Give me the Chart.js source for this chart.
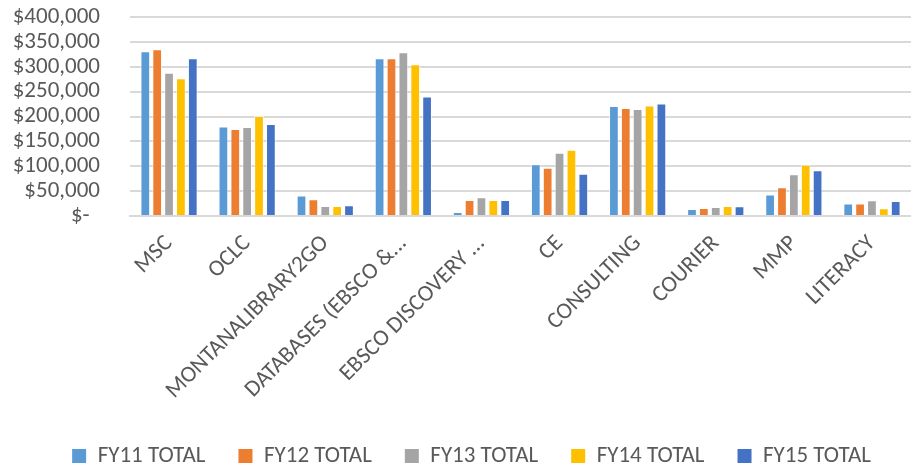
<!DOCTYPE html>
<html><head><meta charset="utf-8">
<script src="https://cdn.jsdelivr.net/npm/chart.js@4"></script>
<style>html,body{margin:0;padding:0;background:#fff}#wrap{width:911px;height:472px}</style>
</head><body><div id="wrap"><canvas id="c" width="911" height="472"></canvas></div>
<script>
const categories = ["MSC","OCLC","MONTANALIBRARY2GO","DATABASES (EBSCO &...","EBSCO DISCOVERY ...","CE","CONSULTING","COURIER","MMP","LITERACY"];
const fy11 = [331000,180000,41000,317000,8000,104000,221000,14000,43000,25000];
const fy12 = [335000,175000,33500,317000,32000,97000,217000,16000,58000,25000];
const fy13 = [288000,179000,20000,329000,37500,127000,215000,18000,84000,31500];
const fy14 = [277000,201000,20000,305000,32000,133000,222000,20000,103000,15500];
const fy15 = [317000,185000,21500,240000,32000,85000,226000,19500,92000,30000];
const seriesNames = ["FY11 TOTAL","FY12 TOTAL","FY13 TOTAL","FY14 TOTAL","FY15 TOTAL"];
const colors = ["#5B9BD5","#ED7D31","#A5A5A5","#FFC000","#4472C4"];
const yTicks = [0,50000,100000,150000,200000,250000,300000,350000,400000];

const font = "Carlito, 'Liberation Sans Narrow', 'Open Sans', sans-serif";
const data = {
  labels: categories,
  datasets: [fy11,fy12,fy13,fy14,fy15].map((d,i)=>({
    label: seriesNames[i], data: d, backgroundColor: colors[i],
    borderColor: "rgba(255,255,255,0.6)", borderWidth: 1,
    categoryPercentage: 0.76, barPercentage: 0.82
  }))
};
const legendShift = {
  id: 'legendShift',
  afterLayout(chart) { if (chart.legend) { chart.legend.left += 10; chart.legend.right += 10; } }
};
new Chart(document.getElementById('c'), {
  type: 'bar',
  data,
  plugins: [legendShift],
  options: {
    responsive: false, animation: false,
    layout: { padding: { left: 12, right: 0, top: 0, bottom: -5.5 } },
    plugins: {
      legend: { position: 'bottom',
        labels: { font: { family: font, size: 23 }, color: '#595959', boxWidth: 14, boxHeight: 14, padding: 33,
          generateLabels: ch => ch.data.datasets.map((ds,i)=>({
            text: ds.label, fillStyle: ds.backgroundColor, strokeStyle: ds.backgroundColor,
            lineWidth: 0, hidden: false, datasetIndex: i, fontColor: '#595959'
          }))
        } },
      tooltip: { enabled: false }
    },
    scales: {
      x: {
        grid: { display: false, drawTicks: false },
        border: { color: '#d9d9d9', width: 2 },
        ticks: { font: { family: font, size: 23 }, color: '#595959', minRotation: 45, maxRotation: 45, padding: 14, autoSkip: false },
        afterFit: s => { s.height = 195.5; s.paddingLeft = 0; s.paddingRight = 0; }
      },
      y: {
        min: 0, max: 400000,
        afterBuildTicks: a => { a.ticks = yTicks.map(v=>({value:v})); },
        grid: { color: '#d9d9d9', lineWidth: 2, drawTicks: false },
        border: { display: false },
        ticks: { font: { family: font, size: 23 }, color: '#595959', padding: 30, autoSkip: false,
          callback: v => v === 0 ? '$-  ' : '$' + v.toLocaleString('en-US') },
        afterFit: s => { s.width = 118; s.paddingTop = 17; s.paddingBottom = 0; }
      }
    }
  }
});
</script></body></html>
